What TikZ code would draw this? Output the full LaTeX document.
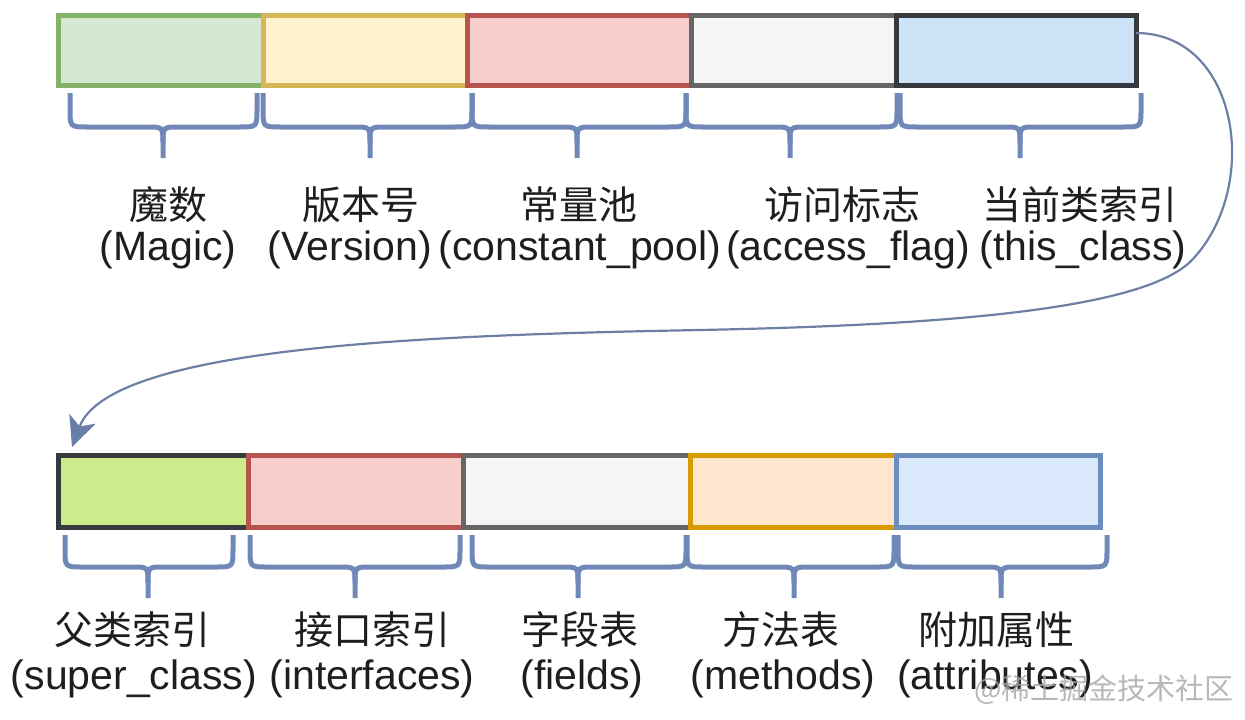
\documentclass[tikz,border=0pt]{standalone}
\usepackage{fontspec}
\setmainfont{Liberation Sans}
\newfontfamily\cjk{Noto Sans CJK SC}
\usetikzlibrary{arrows.meta,calc}
\definecolor{gF}{HTML}{D5E8D4}\definecolor{gD}{HTML}{82B366}
\definecolor{yF}{HTML}{FFF2CC}\definecolor{yD}{HTML}{D6B656}
\definecolor{rF}{HTML}{F8CECC}\definecolor{rD}{HTML}{B85450}
\definecolor{wF}{HTML}{F5F5F5}\definecolor{wD}{HTML}{666666}
\definecolor{bF}{HTML}{CCE3F8}\definecolor{kD}{HTML}{36393D}
\definecolor{lF}{HTML}{CDEB8B}
\definecolor{oF}{HTML}{FFE6CC}\definecolor{oD}{HTML}{D79B00}
\definecolor{pF}{HTML}{DAE8FC}\definecolor{pD}{HTML}{6C8EBF}
\definecolor{brc}{HTML}{7088B8}
\definecolor{crv}{HTML}{6E7FA6}
\definecolor{txt}{HTML}{1E1E1E}
\newcommand\mybrace[6]{%
  \draw[bracesty] (#1,#4) -- (#1,#5-18) .. controls (#1,#5) .. (#1+18,#5)
    -- (#3-16,#5) .. controls (#3,#5) .. (#3,#5+16) -- (#3,#6);
  \draw[bracesty] (#2,#4) -- (#2,#5-18) .. controls (#2,#5) .. (#2-18,#5)
    -- (#3+16,#5) .. controls (#3,#5) .. (#3,#5+16);
}
\begin{document}
\begin{tikzpicture}[x=1pt,y=-1pt,
  box/.style={draw, line width=5pt, rectangle, inner sep=0pt, outer sep=0pt, line join=miter},
  bracesty/.style={draw=brc, line width=5pt, line cap=butt},
  cn/.style={font=\cjk\fontsize{39}{39}\selectfont, text=txt, inner sep=0pt},
  en/.style={font=\fontsize{41}{41}\selectfont, text=txt, inner sep=0pt},
  conn/.style={draw=crv, line width=2.2pt, -{Stealth[length=30pt,width=28pt,inset=8pt,fill=pD!90!black]}},
]
\useasboundingbox (0,0) rectangle (1245,720);
% top row
\node[box, fill=gF, draw=gD, minimum width=205pt, minimum height=70pt] (t1) at (160.5,50) {};
\node[box, fill=yF, draw=yD, minimum width=204pt, minimum height=70pt] (t2) at (365,50) {};
\node[box, fill=rF, draw=rD, minimum width=224pt, minimum height=70pt] (t3) at (579,50) {};
\node[box, fill=wF, draw=wD, minimum width=205pt, minimum height=70pt] (t4) at (793.5,50) {};
\node[box, fill=bF, draw=kD, minimum width=240pt, minimum height=70pt] (t5) at (1016,50) {};
% bottom row
\node[box, fill=lF, draw=kD, minimum width=190pt, minimum height=72pt] (b1) at (153,491) {};
\node[box, fill=rF, draw=rD, minimum width=215pt, minimum height=72pt] (b2) at (355.5,491) {};
\node[box, fill=wF, draw=wD, minimum width=227pt, minimum height=72pt] (b3) at (576.5,491) {};
\node[box, fill=oF, draw=oD, minimum width=206pt, minimum height=72pt] (b4) at (793,491) {};
\node[box, fill=pF, draw=pD, minimum width=204pt, minimum height=72pt] (b5) at (998,491) {};
% braces top
\mybrace{70}{257}{163}{93}{127}{158}
\mybrace{263}{472}{370}{93}{127}{158}
\mybrace{472}{686}{577}{93}{127}{158}
\mybrace{686}{897}{790}{93}{127}{158}
\mybrace{900}{1141}{1020}{93}{127}{158}
% braces bottom
\mybrace{65}{233}{148}{535}{567}{598}
\mybrace{250}{460}{355}{535}{567}{598}
\mybrace{472}{686}{578}{535}{567}{598}
\mybrace{687}{894}{794}{535}{567}{598}
\mybrace{898}{1107}{1001}{535}{567}{598}
% labels top
\node[cn] (c1) at (168,205) {魔数};
\node[en] (e1) at (168,250) {(Magic)};
\node[cn] (c2) at (361,205) {版本号};
\node[en] (e2) at (350,250) {(Version)};
\node[cn] (c3) at (579,205) {常量池};
\node[en] (e3) at (580,250) {(constant\_pool)};
\node[cn] (c4) at (842,205) {访问标志};
\node[en] (e4) at (848,250) {(access\_flag)};
\node[cn] (c5) at (1080,205) {当前类索引};
\node[en] (e5) at (1083,250) {(this\_class)};
% labels bottom
\node[cn] (c6) at (132,630) {父类索引};
\node[en] (e6) at (134,679) {(super\_class)};
\node[cn] (c7) at (372,630) {接口索引};
\node[en] (e7) at (372,679) {(interfaces)};
\node[cn] (c8) at (580,630) {字段表};
\node[en] (e8) at (582,679) {(fields)};
\node[cn] (c9) at (781,630) {方法表};
\node[en] (e9) at (783,679) {(methods)};
\node[cn] (c10) at (996,630) {附加属性};
\node[en] (e10) at (995,679) {(attributes)};
% connector
\coordinate (s) at ($(t5.north east)+(0,18)$);
\coordinate (e) at ($(b1.north west)+(14,-8)$);
\draw[conn] (s) .. controls (1240,33) and (1262,190) .. (1190,262)
  .. controls (1140,309) and (950,325) .. (700,330)
  .. controls (440,335) and (110,345) .. (e);
% watermark
\node[font=\cjk\fontsize{29}{29}\selectfont, text=black!35, opacity=0.8, inner sep=0pt, anchor=east] (wm) at (1234,690) {@稀土掘金技术社区};
\end{tikzpicture}
\end{document}
